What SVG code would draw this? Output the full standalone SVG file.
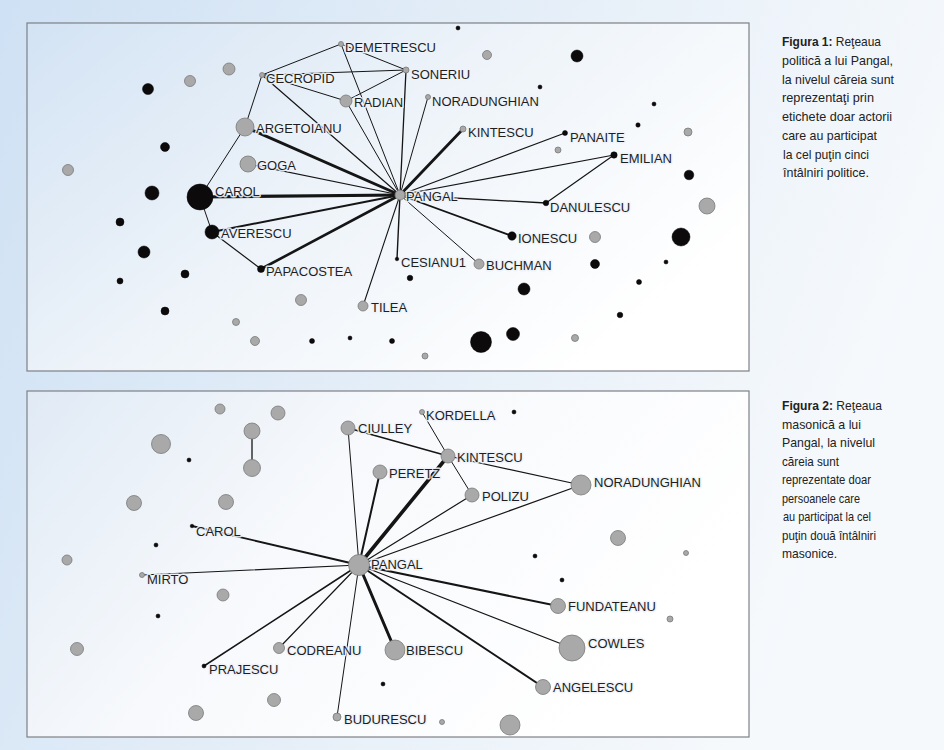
<svg xmlns="http://www.w3.org/2000/svg" width="944" height="750" viewBox="0 0 944 750">
<defs>
<linearGradient id="bg" x1="0" y1="0" x2="1" y2="0.3">
<stop offset="0" stop-color="#cfe1f4"/>
<stop offset="0.55" stop-color="#e6eff8"/>
<stop offset="1" stop-color="#f6f9fc"/>
</linearGradient>
<linearGradient id="pan1" x1="0" y1="0" x2="1" y2="0.6">
<stop offset="0" stop-color="#d3e3f4"/>
<stop offset="0.5" stop-color="#edf3f9"/>
<stop offset="1" stop-color="#ffffff"/>
</linearGradient>
<linearGradient id="pan2" x1="0" y1="0" x2="1" y2="0.4">
<stop offset="0" stop-color="#e0eaf5"/>
<stop offset="0.45" stop-color="#f7f9fc"/>
<stop offset="1" stop-color="#ffffff"/>
</linearGradient>
<style>
.e{stroke:#151515;fill:none;stroke-linecap:round}
.g{fill:#a9a9a9;stroke:#7a7a7a;stroke-width:0.8}
.b{fill:#0d0a0c;stroke:#000;stroke-width:0.5}
.l{font-family:"Liberation Sans",Arial,sans-serif;font-size:13px;fill:#1e1e1e;stroke:#eef3f9;stroke-opacity:0.9;stroke-width:3;stroke-linejoin:round;paint-order:stroke fill}
.c{font-family:"Liberation Sans",Arial,sans-serif;font-size:13px;fill:#222}
.c .h{font-weight:bold}
.panel{stroke:#7d8085;stroke-width:1.2}
</style>
</defs>
<rect x="0" y="0" width="944" height="750" fill="url(#bg)"/>
<rect class="panel" x="27" y="23" width="722" height="348" fill="url(#pan1)"/>
<rect class="panel" x="27" y="391" width="722" height="346" fill="url(#pan2)"/>

<g id="captions">
<text class="c" x="782" y="46" textLength="99" lengthAdjust="spacingAndGlyphs"><tspan class="h">Figura 1:</tspan> Reţeaua</text>
<text class="c" x="782" y="65" textLength="111" lengthAdjust="spacingAndGlyphs">politică a lui Pangal,</text>
<text class="c" x="782" y="83.5" textLength="112" lengthAdjust="spacingAndGlyphs">la nivelul căreia sunt</text>
<text class="c" x="782" y="102" textLength="92" lengthAdjust="spacingAndGlyphs">reprezentaţi prin</text>
<text class="c" x="782" y="121" textLength="110" lengthAdjust="spacingAndGlyphs">etichete doar actorii</text>
<text class="c" x="782" y="140" textLength="95" lengthAdjust="spacingAndGlyphs">care au participat</text>
<text class="c" x="783" y="158.5" textLength="86" lengthAdjust="spacingAndGlyphs">la cel puţin cinci</text>
<text class="c" x="783" y="177" textLength="86" lengthAdjust="spacingAndGlyphs">întâlniri politice.</text>

<text class="c" x="782" y="410" textLength="100" lengthAdjust="spacingAndGlyphs"><tspan class="h">Figura 2:</tspan> Reţeaua</text>
<text class="c" x="782" y="428.5" textLength="79" lengthAdjust="spacingAndGlyphs">masonică a lui</text>
<text class="c" x="782" y="447" textLength="93" lengthAdjust="spacingAndGlyphs">Pangal, la nivelul</text>
<text class="c" x="782" y="465.5" textLength="57" lengthAdjust="spacingAndGlyphs">căreia sunt</text>
<text class="c" x="782" y="484" textLength="89" lengthAdjust="spacingAndGlyphs">reprezentate doar</text>
<text class="c" x="782" y="502.5" textLength="78" lengthAdjust="spacingAndGlyphs">persoanele care</text>
<text class="c" x="783" y="521" textLength="88" lengthAdjust="spacingAndGlyphs">au participat la cel</text>
<text class="c" x="782" y="539.5" textLength="94" lengthAdjust="spacingAndGlyphs">puţin două întâlniri</text>
<text class="c" x="782" y="558" textLength="55" lengthAdjust="spacingAndGlyphs">masonice.</text>
</g>

<g id="connectors">
<!-- top network -->
<line class="e" x1="400" y1="195" x2="245" y2="127" stroke-width="3"/>
<line class="e" x1="400" y1="195" x2="200" y2="197" stroke-width="3.2"/>
<line class="e" x1="400" y1="195" x2="463" y2="129" stroke-width="2.8"/>
<line class="e" x1="400" y1="195" x2="261" y2="269" stroke-width="2.6"/>
<line class="e" x1="400" y1="195" x2="212" y2="232" stroke-width="2"/>
<line class="e" x1="400" y1="195" x2="512" y2="236" stroke-width="1.8"/>
<line class="e" x1="400" y1="195" x2="248" y2="164" stroke-width="1.2"/>
<line class="e" x1="400" y1="195" x2="262" y2="75" stroke-width="1.2"/>
<line class="e" x1="400" y1="195" x2="346" y2="101" stroke-width="1"/>
<line class="e" x1="400" y1="195" x2="341" y2="44" stroke-width="1"/>
<line class="e" x1="400" y1="195" x2="406" y2="70" stroke-width="1.3"/>
<line class="e" x1="400" y1="195" x2="428" y2="97" stroke-width="1"/>
<line class="e" x1="400" y1="195" x2="565" y2="133" stroke-width="1.2"/>
<line class="e" x1="400" y1="195" x2="614" y2="155" stroke-width="1.2"/>
<line class="e" x1="400" y1="195" x2="546" y2="203" stroke-width="1.3"/>
<line class="e" x1="400" y1="195" x2="479" y2="264" stroke-width="1"/>
<line class="e" x1="400" y1="195" x2="397" y2="259" stroke-width="1.4"/>
<line class="e" x1="400" y1="195" x2="363" y2="306" stroke-width="1.1"/>
<line class="e" x1="341" y1="44" x2="262" y2="75" stroke-width="1"/>
<line class="e" x1="341" y1="44" x2="406" y2="70" stroke-width="1"/>
<line class="e" x1="262" y1="75" x2="406" y2="70" stroke-width="1"/>
<line class="e" x1="346" y1="101" x2="406" y2="70" stroke-width="1"/>
<line class="e" x1="262" y1="75" x2="346" y2="101" stroke-width="1"/>
<line class="e" x1="262" y1="75" x2="245" y2="127" stroke-width="1"/>
<line class="e" x1="245" y1="127" x2="200" y2="197" stroke-width="1"/>
<line class="e" x1="200" y1="197" x2="212" y2="232" stroke-width="1"/>
<line class="e" x1="212" y1="232" x2="261" y2="269" stroke-width="1.2"/>
<line class="e" x1="614" y1="155" x2="546" y2="203" stroke-width="1.2"/>
<!-- bottom network -->
<line class="e" x1="359" y1="565" x2="348" y2="428" stroke-width="1"/>
<line class="e" x1="359" y1="565" x2="380" y2="472" stroke-width="2"/>
<line class="e" x1="359" y1="565" x2="448" y2="456" stroke-width="3.6"/>
<line class="e" x1="359" y1="565" x2="472" y2="495" stroke-width="1.2"/>
<line class="e" x1="359" y1="565" x2="581" y2="485" stroke-width="1.3"/>
<line class="e" x1="359" y1="565" x2="192" y2="526" stroke-width="1.8"/>
<line class="e" x1="359" y1="565" x2="142" y2="575" stroke-width="1.2"/>
<line class="e" x1="359" y1="565" x2="204" y2="666" stroke-width="1.6"/>
<line class="e" x1="359" y1="565" x2="279" y2="648" stroke-width="1.2"/>
<line class="e" x1="359" y1="565" x2="337" y2="717" stroke-width="1"/>
<line class="e" x1="359" y1="565" x2="395" y2="650" stroke-width="3"/>
<line class="e" x1="359" y1="565" x2="558" y2="606" stroke-width="2"/>
<line class="e" x1="359" y1="565" x2="572" y2="648" stroke-width="1.2"/>
<line class="e" x1="359" y1="565" x2="543" y2="687" stroke-width="2"/>
<line class="e" x1="348" y1="428" x2="448" y2="456" stroke-width="1.6"/>
<line class="e" x1="422" y1="412" x2="448" y2="456" stroke-width="1"/>
<line class="e" x1="448" y1="456" x2="472" y2="495" stroke-width="1"/>
<line class="e" x1="448" y1="456" x2="581" y2="485" stroke-width="1.2"/>
<line class="e" x1="252" y1="431" x2="252" y2="468" stroke-width="1.3"/>
</g>

<!-- top network nodes -->
<g id="t-pangal"><circle class="g" cx="400" cy="195" r="5"/><text class="l" x="406" y="201">PANGAL</text></g>
<g id="t-demetrescu"><circle class="g" cx="341" cy="44" r="2.5"/><text class="l" x="345" y="52">DEMETRESCU</text></g>
<g id="t-soneriu"><circle class="g" cx="406" cy="70" r="3"/><text class="l" x="411" y="79">SONERIU</text></g>
<g id="t-cecropid"><circle class="g" cx="262" cy="75" r="2.5"/><text class="l" x="266" y="83">CECROPID</text></g>
<g id="t-radian"><circle class="g" cx="346" cy="101" r="6"/><text class="l" x="354" y="107">RADIAN</text></g>
<g id="t-noradunghian"><circle class="g" cx="428" cy="97" r="2.5"/><text class="l" x="432" y="106">NORADUNGHIAN</text></g>
<g id="t-argetoianu"><circle class="g" cx="245" cy="127" r="9"/><text class="l" x="256" y="133">ARGETOIANU</text></g>
<g id="t-kintescu"><circle class="g" cx="463" cy="129" r="3"/><text class="l" x="468" y="137">KINTESCU</text></g>
<g id="t-panaite"><circle class="b" cx="565" cy="133" r="2.5"/><text class="l" x="570" y="142">PANAITE</text></g>
<g id="t-emilian"><circle class="b" cx="614" cy="155" r="3.2"/><text class="l" x="620" y="163">EMILIAN</text></g>
<g id="t-goga"><circle class="g" cx="248" cy="164" r="8"/><text class="l" x="257" y="170">GOGA</text></g>
<g id="t-carol"><circle class="b" cx="200" cy="197" r="13"/><text class="l" x="215" y="196">CAROL</text></g>
<g id="t-averescu"><circle class="b" cx="212" cy="232" r="7"/><text class="l" x="221" y="238">AVERESCU</text></g>
<g id="t-danulescu"><circle class="b" cx="546" cy="203" r="2.8"/><text class="l" x="550" y="212">DANULESCU</text></g>
<g id="t-ionescu"><circle class="b" cx="512" cy="236" r="4.2"/><text class="l" x="518" y="243">IONESCU</text></g>
<g id="t-papacostea"><circle class="b" cx="261" cy="269" r="3.5"/><text class="l" x="266" y="276">PAPACOSTEA</text></g>
<g id="t-cesianu1"><circle class="b" cx="397" cy="259" r="1.8"/><text class="l" x="401" y="267">CESIANU1</text></g>
<g id="t-buchman"><circle class="g" cx="479" cy="264" r="5"/><text class="l" x="486" y="270">BUCHMAN</text></g>
<g id="t-tilea"><circle class="g" cx="363" cy="306" r="5"/><text class="l" x="371" y="312">TILEA</text></g>

<!-- top isolates -->
<g id="t-iso-b1"><circle class="b" cx="458" cy="28" r="2"/></g>
<g id="t-iso-b2"><circle class="b" cx="577" cy="56" r="6"/></g>
<g id="t-iso-b3"><circle class="b" cx="148" cy="89" r="5.5"/></g>
<g id="t-iso-b4"><circle class="b" cx="540" cy="87" r="2"/></g>
<g id="t-iso-b5"><circle class="b" cx="654" cy="104" r="2"/></g>
<g id="t-iso-b6"><circle class="b" cx="638" cy="125" r="2.2"/></g>
<g id="t-iso-b7"><circle class="b" cx="165" cy="147" r="4.5"/></g>
<g id="t-iso-b8"><circle class="b" cx="689" cy="175" r="4.8"/></g>
<g id="t-iso-b9"><circle class="b" cx="152" cy="193" r="7"/></g>
<g id="t-iso-b10"><circle class="b" cx="120" cy="222" r="4"/></g>
<g id="t-iso-b11"><circle class="b" cx="144" cy="252" r="6"/></g>
<g id="t-iso-b12"><circle class="b" cx="185" cy="274" r="4"/></g>
<g id="t-iso-b13"><circle class="b" cx="120" cy="281" r="3"/></g>
<g id="t-iso-b14"><circle class="b" cx="165" cy="311" r="4"/></g>
<g id="t-iso-b15"><circle class="b" cx="312" cy="341" r="2.5"/></g>
<g id="t-iso-b16"><circle class="b" cx="350" cy="338" r="2"/></g>
<g id="t-iso-b17"><circle class="b" cx="392" cy="341" r="2.5"/></g>
<g id="t-iso-b18"><circle class="b" cx="681" cy="237" r="9"/></g>
<g id="t-iso-b19"><circle class="b" cx="595" cy="264" r="4.5"/></g>
<g id="t-iso-b20"><circle class="b" cx="666" cy="262" r="2"/></g>
<g id="t-iso-b21"><circle class="b" cx="639" cy="282" r="2.5"/></g>
<g id="t-iso-b22"><circle class="b" cx="410" cy="278" r="2.8"/></g>
<g id="t-iso-b23"><circle class="b" cx="524" cy="289" r="6"/></g>
<g id="t-iso-b24"><circle class="b" cx="620" cy="315" r="2.8"/></g>
<g id="t-iso-b25"><circle class="b" cx="513" cy="334" r="6.5"/></g>
<g id="t-iso-b26"><circle class="b" cx="481" cy="342" r="10.5"/></g>
<g id="t-iso-g1"><circle class="g" cx="487" cy="55" r="4.5"/></g>
<g id="t-iso-g2"><circle class="g" cx="229" cy="69" r="6"/></g>
<g id="t-iso-g3"><circle class="g" cx="190" cy="81" r="5.5"/></g>
<g id="t-iso-g4"><circle class="g" cx="68" cy="170" r="5.5"/></g>
<g id="t-iso-g5"><circle class="g" cx="558" cy="150" r="3"/></g>
<g id="t-iso-g6"><circle class="g" cx="688" cy="132" r="4"/></g>
<g id="t-iso-g7"><circle class="g" cx="707" cy="206" r="8"/></g>
<g id="t-iso-g8"><circle class="g" cx="595" cy="237" r="5.5"/></g>
<g id="t-iso-g9"><circle class="g" cx="301" cy="300" r="5.5"/></g>
<g id="t-iso-g10"><circle class="g" cx="236" cy="322" r="3.5"/></g>
<g id="t-iso-g11"><circle class="g" cx="255" cy="341" r="4.5"/></g>
<g id="t-iso-g12"><circle class="g" cx="425" cy="356" r="3"/></g>
<g id="t-iso-g13"><circle class="g" cx="575" cy="338" r="3.5"/></g>

<!-- bottom network nodes -->
<g id="m-pangal"><circle class="g" cx="359" cy="565" r="10.5"/><text class="l" x="371" y="569">PANGAL</text></g>
<g id="m-ciulley"><circle class="g" cx="348" cy="428" r="7"/><text class="l" x="358" y="433">CIULLEY</text></g>
<g id="m-kordella"><circle class="g" cx="422" cy="412" r="2.5"/><text class="l" x="426" y="420">KORDELLA</text></g>
<g id="m-kintescu"><circle class="g" cx="448" cy="456" r="7"/><text class="l" x="457" y="462">KINTESCU</text></g>
<g id="m-peretz"><circle class="g" cx="380" cy="472" r="7"/><text class="l" x="389" y="478">PERETZ</text></g>
<g id="m-polizu"><circle class="g" cx="472" cy="495" r="7"/><text class="l" x="482" y="501">POLIZU</text></g>
<g id="m-noradunghian"><circle class="g" cx="581" cy="485" r="10"/><text class="l" x="594" y="487">NORADUNGHIAN</text></g>
<g id="m-carol"><circle class="b" cx="192" cy="526" r="1.8"/><text class="l" x="196" y="536">CAROL</text></g>
<g id="m-mirto"><circle class="g" cx="142" cy="575" r="2.5"/><text class="l" x="147" y="584">MIRTO</text></g>
<g id="m-codreanu"><circle class="g" cx="279" cy="648" r="5.5"/><text class="l" x="287" y="655">CODREANU</text></g>
<g id="m-prajescu"><circle class="b" cx="204" cy="666" r="2"/><text class="l" x="209" y="674">PRAJESCU</text></g>
<g id="m-bibescu"><circle class="g" cx="395" cy="650" r="10"/><text class="l" x="406" y="655">BIBESCU</text></g>
<g id="m-budurescu"><circle class="g" cx="337" cy="717" r="4"/><text class="l" x="344" y="724">BUDURESCU</text></g>
<g id="m-fundateanu"><circle class="g" cx="558" cy="606" r="7.5"/><text class="l" x="568" y="611">FUNDATEANU</text></g>
<g id="m-cowles"><circle class="g" cx="572" cy="648" r="13"/><text class="l" x="588" y="648">COWLES</text></g>
<g id="m-angelescu"><circle class="g" cx="543" cy="687" r="7.5"/><text class="l" x="553" y="692">ANGELESCU</text></g>

<!-- bottom isolates -->
<g id="m-pair-a"><circle class="g" cx="252" cy="431" r="8"/></g>
<g id="m-pair-b"><circle class="g" cx="252" cy="468" r="8.5"/></g>
<g id="m-iso-g1"><circle class="g" cx="220" cy="409" r="5"/></g>
<g id="m-iso-g2"><circle class="g" cx="278" cy="413" r="7"/></g>
<g id="m-iso-g3"><circle class="g" cx="161" cy="444" r="9.5"/></g>
<g id="m-iso-g4"><circle class="g" cx="134" cy="503" r="7.5"/></g>
<g id="m-iso-g5"><circle class="g" cx="226" cy="502" r="7.5"/></g>
<g id="m-iso-g6"><circle class="g" cx="67" cy="560" r="5"/></g>
<g id="m-iso-g7"><circle class="g" cx="223" cy="595" r="6"/></g>
<g id="m-iso-g8"><circle class="g" cx="77" cy="649" r="6.5"/></g>
<g id="m-iso-g9"><circle class="g" cx="274" cy="700" r="6.5"/></g>
<g id="m-iso-g10"><circle class="g" cx="196" cy="713" r="7.5"/></g>
<g id="m-iso-g11"><circle class="g" cx="618" cy="538" r="7.5"/></g>
<g id="m-iso-g12"><circle class="g" cx="686" cy="553" r="2.5"/></g>
<g id="m-iso-g13"><circle class="g" cx="670" cy="619" r="3"/></g>
<g id="m-iso-g14"><circle class="g" cx="442" cy="722" r="2.5"/></g>
<g id="m-iso-g15"><circle class="g" cx="510" cy="725" r="10"/></g>
<g id="m-iso-b1"><circle class="b" cx="514" cy="412" r="2"/></g>
<g id="m-iso-b2"><circle class="b" cx="189" cy="460" r="2"/></g>
<g id="m-iso-b3"><circle class="b" cx="156" cy="545" r="2"/></g>
<g id="m-iso-b4"><circle class="b" cx="158" cy="616" r="2"/></g>
<g id="m-iso-b5"><circle class="b" cx="535" cy="556" r="2"/></g>
<g id="m-iso-b6"><circle class="b" cx="562" cy="580" r="2"/></g>
<g id="m-iso-b7"><circle class="b" cx="383" cy="684" r="2"/></g>
</svg>
